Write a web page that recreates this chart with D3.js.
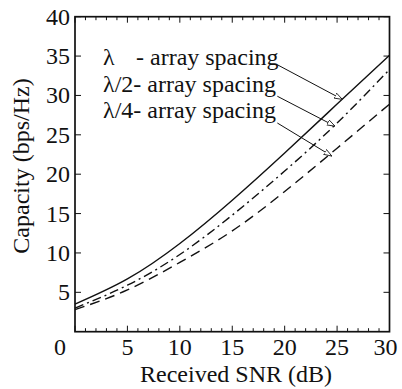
<!DOCTYPE html>
<html>
<head>
<meta charset="utf-8">
<script src="https://cdn.jsdelivr.net/npm/d3@7"></script>
<style>
  body { margin: 0; background: #fff; }
  svg text { font-family: Liberation Serif, Tinos, DejaVu Serif, Times New Roman, Times, serif; }
</style>
</head>
<body>
<div id="chart"></div>
<script>
/* DATA */
const snr = [0, 5, 10, 15, 20, 25, 30];
const capLambda = [3.5, 6.7, 11.2, 16.7, 22.7, 28.9, 35.1];
const capHalf = [3.0, 5.9, 9.8, 14.8, 20.4, 26.5, 33.3];
const capQuarter = [2.8, 5.3, 8.8, 12.8, 17.8, 23.3, 28.9];
const xTicks = [0, 5, 10, 15, 20, 25, 30];
const yTicks = [5, 10, 15, 20, 25, 30, 35, 40];
const legendLabels = ["- array spacing", "λ/2- array spacing", "λ/4- array spacing"];
// arrows: [from x, from y, to x, to y] in data units
const arrows = [
  [19.3, 33.9, 25.5, 29.5],
  [19.3, 29.9, 24.8, 26.1],
  [19.3, 26.5, 24.5, 22.3]
];

/* CONSTANTS */
const width = 402, height = 389,
  margin = { top: 16.7, right: 12.5, bottom: 57.3, left: 75 };

const svg = d3.select("#chart").append("svg")
  .attr("width", width)
  .attr("height", height);

const xScale = d3.scaleLinear().domain([0, 30])
  .range([margin.left, width - margin.right]);
const yScale = d3.scaleLinear().domain([0, 40])
  .range([height - margin.bottom, margin.top]);

const x0 = xScale(0), x1 = xScale(30), y0 = yScale(0), y1 = yScale(40);

// arrow marker (open head)
svg.append("defs").append("marker")
  .attr("id", "head")
  .attr("viewBox", "0 0 10 10")
  .attr("refX", 10).attr("refY", 5)
  .attr("markerWidth", 8).attr("markerHeight", 8)
  .attr("markerUnits", "userSpaceOnUse")
  .attr("orient", "auto")
  .append("path")
  .attr("d", "M0,1.5 L10,5 L0,8.5 Z")
  .attr("fill", "#fff")
  .attr("stroke", "#111")
  .attr("stroke-width", 1);

// minor + major ticks on x (top and bottom), inward
const xMinor = d3.range(0, 31, 1);
svg.append("g").selectAll("line")
  .data(xMinor)
  .join("line")
  .attr("x1", d => xScale(d)).attr("x2", d => xScale(d))
  .attr("y1", y0).attr("y2", d => y0 - (d % 5 === 0 ? 6 : 3.5))
  .attr("stroke", "#111").attr("stroke-width", 1);
svg.append("g").selectAll("line")
  .data(xMinor)
  .join("line")
  .attr("x1", d => xScale(d)).attr("x2", d => xScale(d))
  .attr("y1", y1).attr("y2", d => y1 + (d % 5 === 0 ? 6 : 3.5))
  .attr("stroke", "#111").attr("stroke-width", 1);

// y ticks left and right, inward
svg.append("g").selectAll("line")
  .data(yTicks)
  .join("line")
  .attr("x1", x0).attr("x2", x0 + 6)
  .attr("y1", d => yScale(d)).attr("y2", d => yScale(d))
  .attr("stroke", "#111").attr("stroke-width", 1);
svg.append("g").selectAll("line")
  .data(yTicks)
  .join("line")
  .attr("x1", x1).attr("x2", x1 - 6)
  .attr("y1", d => yScale(d)).attr("y2", d => yScale(d))
  .attr("stroke", "#111").attr("stroke-width", 1);

// frame
svg.append("rect")
  .attr("x", x0).attr("y", y1)
  .attr("width", x1 - x0).attr("height", y0 - y1)
  .attr("fill", "none")
  .attr("stroke", "#111")
  .attr("stroke-width", 1.7);

// tick labels
svg.append("g").selectAll("text")
  .data(xTicks)
  .join("text")
  .attr("x", d => xScale(d) + (d === 0 ? -15 : d === 30 ? -4 : 0))
  .attr("y", 355)
  .attr("text-anchor", "middle")
  .attr("font-size", 24)
  .attr("fill", "#111")
  .text(d => d);

svg.append("g").selectAll("text")
  .data(yTicks)
  .join("text")
  .attr("x", x0 - 5)
  .attr("y", d => yScale(d) + 8)
  .attr("text-anchor", "end")
  .attr("font-size", 24)
  .attr("fill", "#111")
  .text(d => d);

// axis titles
svg.append("text")
  .attr("x", 236).attr("y", 382)
  .attr("text-anchor", "middle")
  .attr("font-size", 24)
  .attr("fill", "#111")
  .text("Received SNR (dB)");

svg.append("text")
  .attr("transform", "translate(29, 166) rotate(-90)")
  .attr("text-anchor", "middle")
  .attr("font-size", 24)
  .attr("fill", "#111")
  .text("Capacity (bps/Hz)");

// curves
const lineGen = (vals) => d3.line()
  .x((d, i) => xScale(snr[i]))
  .y(d => yScale(d))
  .curve(d3.curveNatural)(vals);

const series = [
  { vals: capLambda, dash: null },
  { vals: capHalf, dash: "9,4,2,4" },
  { vals: capQuarter, dash: "10,6" }
];

svg.append("g").selectAll("path")
  .data(series)
  .join("path")
  .attr("d", d => lineGen(d.vals))
  .attr("fill", "none")
  .attr("stroke", "#111")
  .attr("stroke-width", 1.4)
  .attr("stroke-dasharray", d => d.dash);

// legend text
const legend = svg.append("g").attr("font-size", 24).attr("fill", "#111");
legend.append("text").attr("x", 103).attr("y", 65).text("λ");
legend.selectAll("text.lab")
  .data(legendLabels)
  .join("text")
  .attr("class", "lab")
  .attr("x", (d, i) => i === 0 ? 136 : 103)
  .attr("y", (d, i) => 65 + i * 26.7)
  .text(d => d);

// arrows
svg.append("g").selectAll("line")
  .data(arrows)
  .join("line")
  .attr("x1", d => xScale(d[0])).attr("y1", d => yScale(d[1]))
  .attr("x2", d => xScale(d[2])).attr("y2", d => yScale(d[3]))
  .attr("stroke", "#111")
  .attr("stroke-width", 1)
  .attr("marker-end", "url(#head)");
</script>
</body>
</html>
